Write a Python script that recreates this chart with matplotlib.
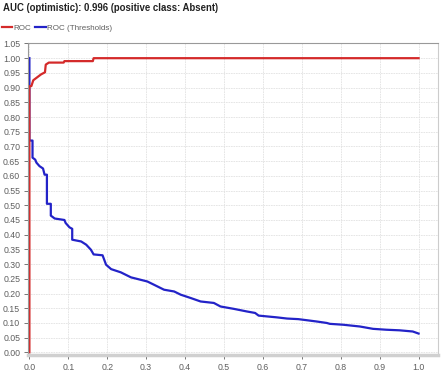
import matplotlib
matplotlib.use('Agg')
import matplotlib.pyplot as plt
from matplotlib.lines import Line2D
import numpy as np

plt.rcParams['font.family'] = ['Liberation Sans', 'DejaVu Sans']

# ROC curve
roc_x = [0.0, 0.0, 0.005, 0.01, 0.02, 0.03, 0.04, 0.042, 0.05, 0.088, 0.09, 0.163, 0.165, 1.0]
roc_y = [0.0, 0.905, 0.905, 0.925, 0.935, 0.945, 0.952, 0.978, 0.985, 0.985, 0.99, 0.99, 1.0, 1.0]

# ROC (Thresholds) curve
thr_x = [0.0, 0.0, 0.008, 0.008, 0.015, 0.018, 0.026, 0.035, 0.039, 0.045, 0.045, 0.055,
         0.055, 0.065, 0.09, 0.093, 0.103, 0.11, 0.11, 0.133, 0.146, 0.158, 0.165, 0.188,
         0.197, 0.21, 0.235, 0.261, 0.303, 0.32, 0.346, 0.372, 0.389, 0.414, 0.44, 0.474,
         0.491, 0.525, 0.559, 0.58, 0.589, 0.636, 0.662, 0.691, 0.738, 0.764, 0.772, 0.806,
         0.849, 0.883, 0.917, 0.951, 0.985, 1.0]
thr_y = [1.0, 0.72, 0.72, 0.662, 0.655, 0.645, 0.633, 0.625, 0.604, 0.604, 0.505, 0.505,
         0.465, 0.455, 0.45, 0.44, 0.425, 0.42, 0.383, 0.377, 0.366, 0.349, 0.333, 0.33,
         0.298, 0.283, 0.272, 0.255, 0.241, 0.23, 0.213, 0.207, 0.196, 0.185, 0.173, 0.168,
         0.156, 0.148, 0.139, 0.134, 0.125, 0.119, 0.115, 0.113, 0.105, 0.100, 0.097, 0.094,
         0.088, 0.080, 0.077, 0.075, 0.071, 0.064]

x_ticks = np.round(np.arange(0, 1.01, 0.1), 1)
y_ticks = np.round(np.arange(0, 1.051, 0.05), 2)

red = '#d42a2a'
blue = '#2323c8'
grey = '#5f5f5f'

fig = plt.figure(figsize=(4.42, 3.78), dpi=100)
ax = fig.add_axes([0.063, 0.06, 0.928, 0.825])

ax.plot(thr_x, thr_y, color=blue, linewidth=1.6)
ax.plot(roc_x, roc_y, color=red, linewidth=1.6)

ax.set_xlim(-0.004, 1.05)
ax.set_ylim(-0.01, 1.05)
ax.set_xticks(x_ticks)
ax.set_yticks(y_ticks)
ax.set_xticklabels([f'{v:.1f}' for v in x_ticks])
ax.set_yticklabels([f'{v:.2f}' for v in y_ticks])
ax.tick_params(labelsize=6.3, colors=grey, length=3, width=0.6, pad=2.5)
ax.grid(True, color='#e2e2e2', linestyle=(0, (2, 1)), linewidth=0.6)
ax.set_axisbelow(True)

for s in ['left', 'top', 'right']:
    ax.spines[s].set_color('#999999')
    ax.spines[s].set_linewidth(0.8)
ax.spines['right'].set_color('#cccccc')
ax.spines['bottom'].set_color('#d0d0d0')
ax.spines['bottom'].set_linewidth(2.5)

fig.text(0.007, 0.993, 'AUC (optimistic): 0.996 (positive class: Absent)',
         fontsize=6.9, fontweight='bold', color='#222222', ha='left', va='top')

handles = [Line2D([], [], color=red, linewidth=1.6),
           Line2D([], [], color=blue, linewidth=1.6)]
leg = fig.legend(handles, ['ROC', 'ROC (Thresholds)'], loc='center left',
                 bbox_to_anchor=(0.004, 0.925), ncol=2, frameon=False,
                 fontsize=5.8, handlelength=1.3, handletextpad=0.15,
                 columnspacing=0.5, borderaxespad=0, borderpad=0)
for t in leg.get_texts():
    t.set_color(grey)

fig.savefig('out.png', dpi=100)
